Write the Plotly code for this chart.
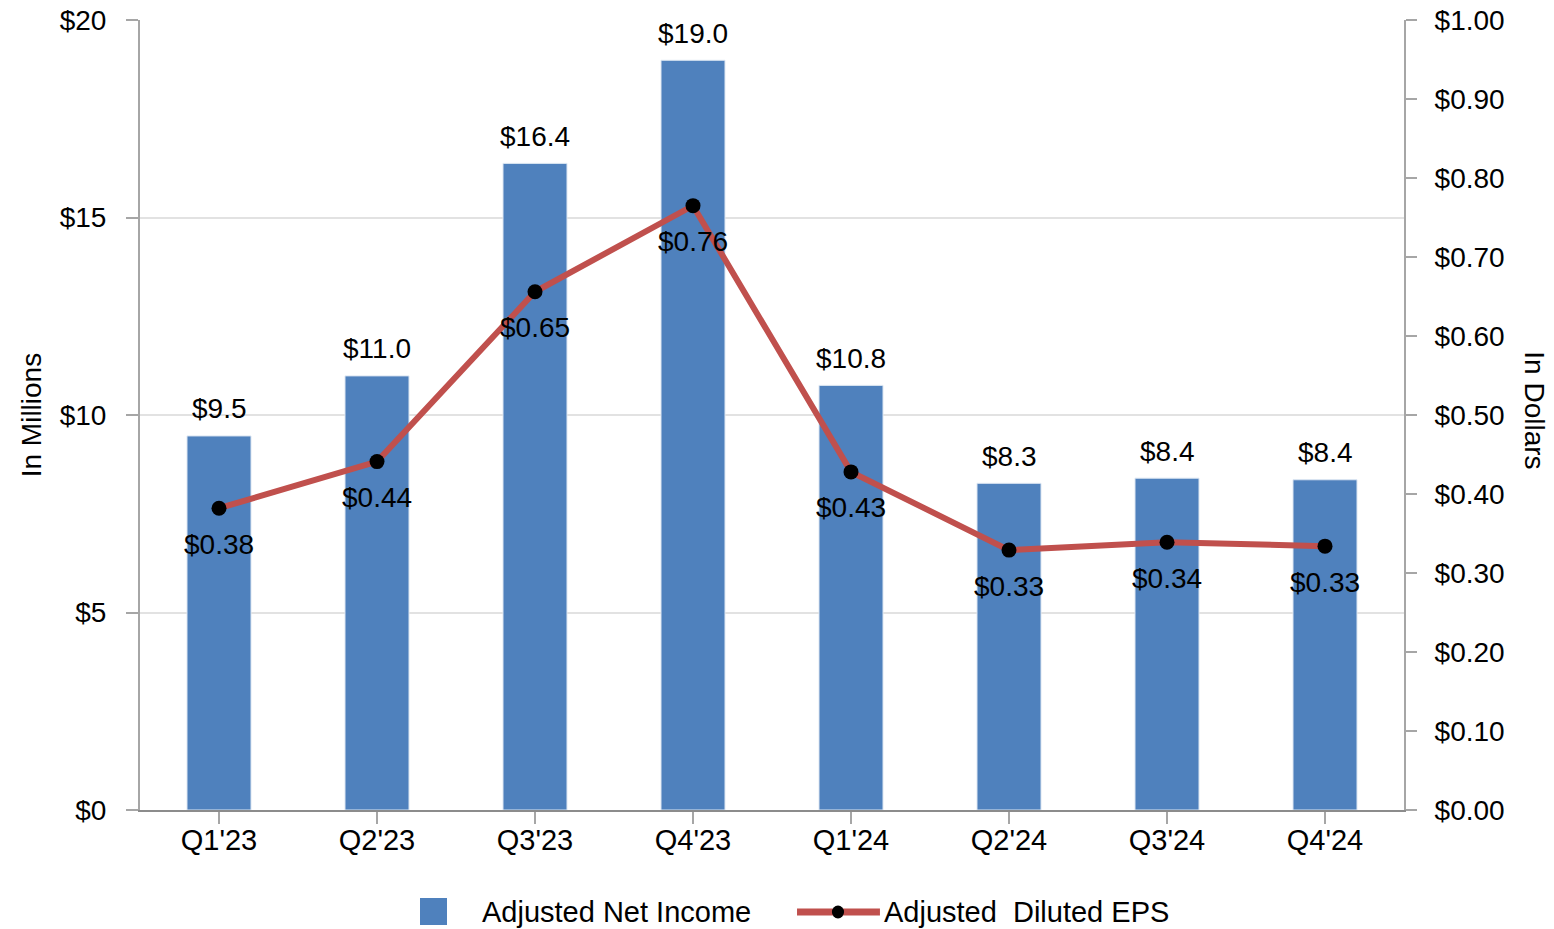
import plotly.graph_objects as go

quarters = ["Q1'23", "Q2'23", "Q3'23", "Q4'23", "Q1'24", "Q2'24", "Q3'24", "Q4'24"]
net_income = [9.47, 10.99, 16.37, 18.98, 10.75, 8.27, 8.40, 8.36]
net_income_labels = ["$9.5", "$11.0", "$16.4", "$19.0", "$10.8", "$8.3", "$8.4", "$8.4"]
eps = [0.382, 0.441, 0.656, 0.765, 0.428, 0.329, 0.339, 0.334]
eps_labels = ["$0.38", "$0.44", "$0.65", "$0.76", "$0.43", "$0.33", "$0.34", "$0.33"]
left_ticks = [0, 5, 10, 15, 20]
left_tick_labels = ["$0", "$5", "$10", "$15", "$20"]

FONT = "Liberation Sans, Arial, sans-serif"
FS = 28
FSX = 29
BLUE = "#4F81BD"
RED = "#C0504D"
AXIS = "#A6A6A6"
GRID = "#E2E2E2"

fig = go.Figure()
fig.add_trace(go.Bar(
    x=quarters, y=net_income, name="Adjusted Net Income",
    marker=dict(color=BLUE, line=dict(color="#DCE6F2", width=1)),
    showlegend=False, yaxis="y",
))
fig.add_trace(go.Scatter(
    x=quarters, y=eps, name="Adjusted  Diluted EPS", mode="lines+markers",
    line=dict(color=RED, width=6),
    marker=dict(color="black", size=15),
    showlegend=False, yaxis="y2",
))

annotations = []
for q, v, t in zip(quarters, net_income, net_income_labels):
    annotations.append(dict(x=q, y=v, xref="x", yref="y", text=t, showarrow=False,
                            yanchor="middle", yshift=27,
                            font=dict(family=FONT, size=FS, color="black")))
for q, v, t in zip(quarters, eps, eps_labels):
    annotations.append(dict(x=q, y=v, xref="x", yref="y2", text=t, showarrow=False,
                            yanchor="middle", yshift=-36,
                            font=dict(family=FONT, size=FS, color="black")))

# axis titles
annotations.append(dict(x=-0.086, y=0.5, xref="paper", yref="paper", text="In Millions",
                        textangle=-90, showarrow=False, xanchor="center", yanchor="middle",
                        font=dict(family=FONT, size=FS, color="black")))
annotations.append(dict(x=1.1036, y=0.506, xref="paper", yref="paper", text="In Dollars",
                        textangle=90, showarrow=False, xanchor="center", yanchor="middle",
                        font=dict(family=FONT, size=FS, color="black")))

# manual legend
annotations.append(dict(x=0.2690, y=-0.1291, xref="paper", yref="paper", text="Adjusted Net Income",
                        showarrow=False, xanchor="left", yanchor="middle",
                        font=dict(family=FONT, size=FSX, color="black")))
annotations.append(dict(x=0.5870, y=-0.1291, xref="paper", yref="paper",
                        text="Adjusted\u00a0 Diluted EPS",
                        showarrow=False, xanchor="left", yanchor="middle",
                        font=dict(family=FONT, size=FSX, color="black")))

shapes = [
    dict(type="rect", xref="paper", yref="paper", x0=0.2215, x1=0.2429, y0=-0.1456, y1=-0.1114,
         fillcolor=BLUE, line=dict(width=0)),
    dict(type="line", xref="paper", yref="paper", x0=0.5198, x1=0.5854, y0=-0.1291, y1=-0.1291,
         line=dict(color=RED, width=7)),
    dict(type="circle", xref="paper", yref="paper", x0=0.5474, x1=0.5570, y0=-0.1373, y1=-0.1209,
         fillcolor="black", line=dict(width=0)),
]

fig.update_layout(
    width=1554, height=929,
    margin=dict(l=140, r=150, t=20, b=119, autoexpand=False),
    paper_bgcolor="white", plot_bgcolor="white",
    font=dict(family=FONT, size=FS, color="black"),
    bargap=0.595,
    showlegend=False,
    annotations=annotations,
    shapes=shapes,
    xaxis=dict(
        type="category", showline=True, linecolor="#8C8C8C", linewidth=2,
        ticks="outside", ticklen=12, tickcolor=AXIS, tickwidth=2,
        tickfont=dict(family=FONT, size=FSX, color="black"), ticklabelstandoff=-9,
        showgrid=False, zeroline=False, automargin=False,
    ),
    yaxis=dict(
        range=[0, 20], tickmode="array", tickvals=left_ticks, ticktext=left_tick_labels,
        showline=True, linecolor=AXIS, linewidth=2,
        ticks="outside", ticklen=12, tickcolor=AXIS, tickwidth=2,
        tickfont=dict(family=FONT, size=FS, color="black"), ticklabelstandoff=14,
        showgrid=True, gridcolor=GRID, gridwidth=2, zeroline=False, automargin=False,
    ),
    yaxis2=dict(
        range=[0, 1], dtick=0.1, tickformat=".2f", tickprefix="$",
        overlaying="y", side="right", anchor="x",
        showline=True, linecolor=AXIS, linewidth=2,
        ticks="outside", ticklen=11, tickcolor=AXIS, tickwidth=2,
        tickfont=dict(family=FONT, size=FS, color="black"), ticklabelstandoff=12,
        showgrid=False, zeroline=False, automargin=False,
    ),
)

fig.write_html("out.html")
